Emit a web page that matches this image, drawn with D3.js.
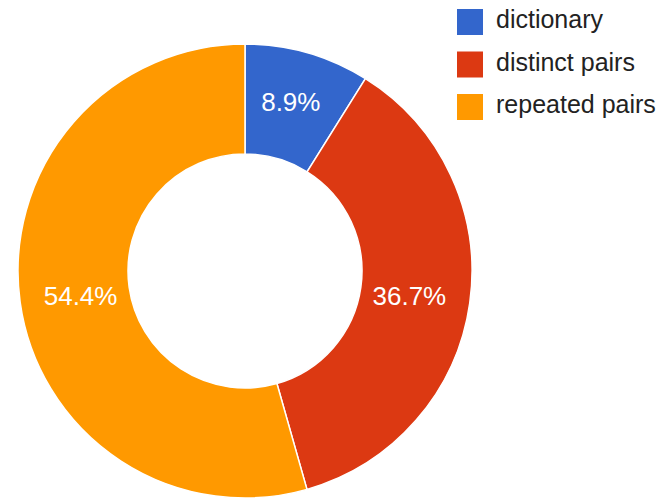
<!DOCTYPE html>
<html>
<head>
<meta charset="utf-8">
<script src="https://cdn.jsdelivr.net/npm/d3@7"></script>
<style>
  html, body { margin: 0; padding: 0; background: #fff; }
  svg { display: block; }
</style>
</head>
<body>
<svg id="chart" width="672" height="503"></svg>
<script>
// Share of each component (percent)
const categories = ["dictionary", "distinct pairs", "repeated pairs"];
const values = [8.9, 36.7, 54.4];
const colors = ["#3366cc", "#dc3912", "#ff9900"];

const svg = d3.select("#chart");
const cx = 245, cy = 271;
const outerR = 227, innerR = 117;
// label anchor distances from the centre (horizontal / vertical)
const labelRx = 166, labelRy = 176;

const color = d3.scaleOrdinal().domain(categories).range(colors);

const pie = d3.pie().sort(null).value(d => d.value);
const arcs = pie(categories.map((c, i) => ({ name: c, value: values[i] })));

const arc = d3.arc().innerRadius(innerR).outerRadius(outerR);

const g = svg.append("g").attr("transform", `translate(${cx},${cy})`);

g.selectAll("path.slice")
  .data(arcs)
  .enter().append("path")
  .attr("class", "slice")
  .attr("d", arc)
  .attr("fill", d => color(d.data.name))
  .attr("stroke", "#ffffff")
  .attr("stroke-width", 1.5);

g.selectAll("text.pct")
  .data(arcs)
  .enter().append("text")
  .attr("class", "pct")
  .attr("transform", d => {
    const a = (d.startAngle + d.endAngle) / 2;
    return `translate(${Math.sin(a) * labelRx},${-Math.cos(a) * labelRy})`;
  })
  .attr("text-anchor", "middle")
  .attr("dy", "0.36em")
  .attr("fill", "#ffffff")
  .style("font-family", "'Liberation Sans', Arial, sans-serif")
  .style("font-size", "26px")
  .text(d => d.data.value.toFixed(1) + "%");

// Legend
const legend = svg.append("g").attr("transform", "translate(457,9)");
const rows = legend.selectAll("g.row")
  .data(categories)
  .enter().append("g")
  .attr("class", "row")
  .attr("transform", (d, i) => `translate(0,${i * 42.5})`);

rows.append("rect")
  .attr("width", 26)
  .attr("height", 26)
  .attr("fill", d => color(d));

rows.append("text")
  .attr("x", 39)
  .attr("y", 19)
  .attr("fill", "#222222")
  .style("font-family", "'Liberation Sans', Arial, sans-serif")
  .style("font-size", "25px")
  .text(d => d);
</script>
</body>
</html>
